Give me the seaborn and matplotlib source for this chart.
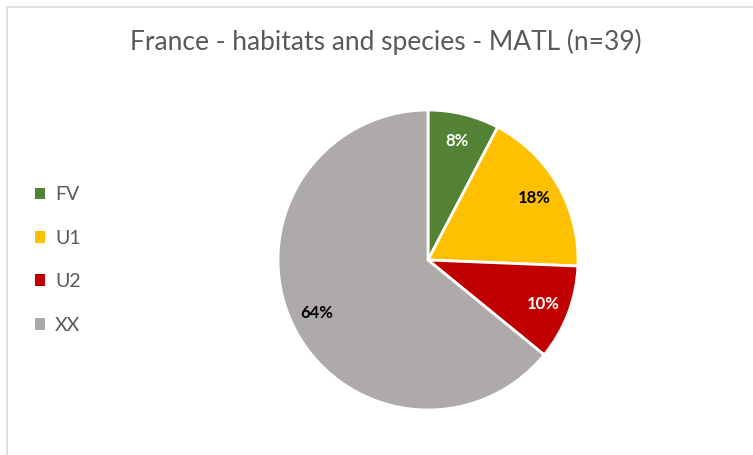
import matplotlib
matplotlib.use("Agg")
import matplotlib.pyplot as plt
from matplotlib.patches import Patch, Rectangle
import seaborn as sns

# Conservation status counts for the MATL region (n = 39)
categories = ["FV", "U1", "U2", "XX"]
counts = [3, 7, 4, 25]
colors = ["#548235", "#FFC000", "#C00000", "#AEAAAA"]
label_colors = ["white", "black", "white", "black"]
title = "France - habitats and species - MATL (n=39)"

sns.set_theme(style="white")
plt.rcParams["font.family"] = ["Lato", "DejaVu Sans"]

W, H = 753, 455
fig = plt.figure(figsize=(W / 100, H / 100), dpi=100)
fig.patch.set_facecolor("white")

# chart-area frame (open to the right and bottom)
fig.add_artist(Rectangle((7 / W, -0.1), 1.2, 1 - 7 / H + 0.1, transform=fig.transFigure,
                         facecolor="none", edgecolor="#D9D9D9", linewidth=1.2))

# pie axes: centre (428, 260) px, radius 150 px
cx, cy, r = 428, 260, 150
ax = fig.add_axes([(cx - r) / W, (H - cy - r) / H, 2 * r / W, 2 * r / H])
wedges, texts, autotexts = ax.pie(
    counts, colors=colors, startangle=90, counterclock=False,
    autopct=lambda p: f"{p:.0f}%", pctdistance=0.82,
    wedgeprops=dict(edgecolor="white", linewidth=2),
    textprops=dict(fontsize=12, fontweight="bold"),
)
for t, c in zip(autotexts, label_colors):
    t.set_color(c)
for w in wedges:
    w.set_clip_on(False)
ax.set_xlim(-1, 1)
ax.set_ylim(-1, 1)
ax.set_aspect("equal")
ax.axis("off")

fig.text(386 / W, 1 - 42 / H, title, ha="center", va="center",
         fontsize=19, color="#595959")

handles = [Patch(facecolor=c, edgecolor="none") for c in colors]
leg = fig.legend(handles, categories, loc="center left",
                 bbox_to_anchor=(17 / W, 1 - 260 / H), frameon=False,
                 fontsize=14, handlelength=0.55, handleheight=0.55,
                 handletextpad=0.5, labelspacing=1.36, labelcolor="#595959")

fig.savefig("out.png", dpi=100, facecolor="white")
